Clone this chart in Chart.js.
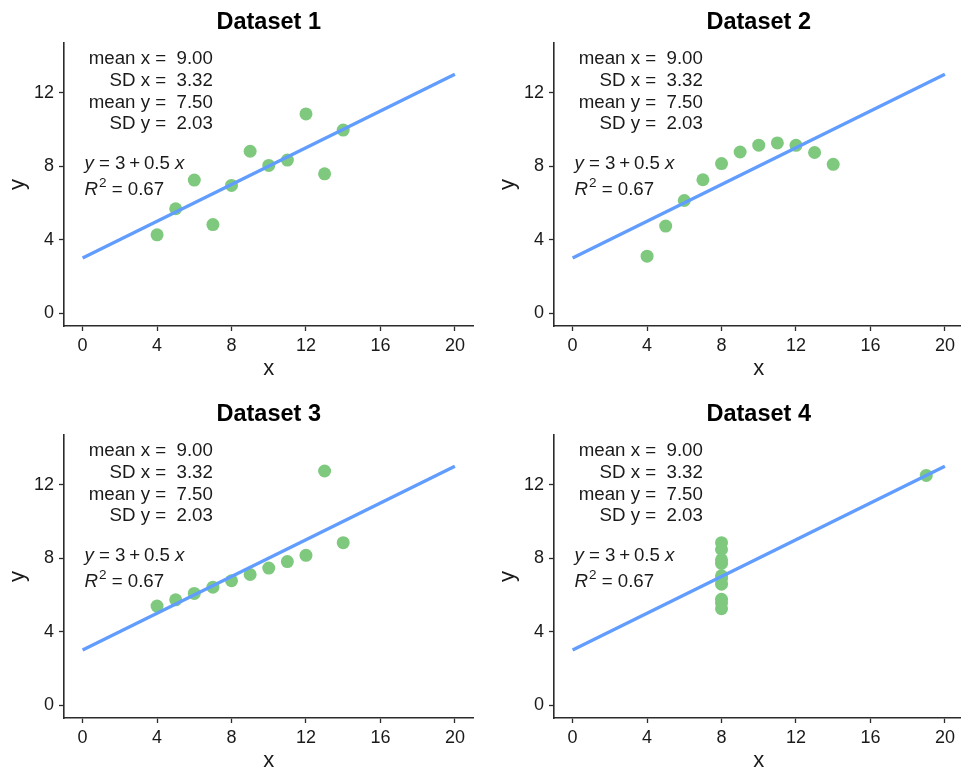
<!DOCTYPE html>
<html>
<head>
<meta charset="utf-8">
<script src="https://cdn.jsdelivr.net/npm/chart.js@4/dist/chart.umd.min.js"></script>
<style>
  html, body { margin: 0; padding: 0; background: #fff; overflow: hidden; width: 961px; height: 774px; }
  .panel { position: absolute; width: 480px; height: 387px; }
  canvas { display: block; }
</style>
</head>
<body>
<div class="panel" style="left:0px;top:0px"><canvas id="c1" width="480" height="387"></canvas></div>
<div class="panel" style="left:490px;top:0px"><canvas id="c2" width="480" height="387"></canvas></div>
<div class="panel" style="left:0px;top:392px"><canvas id="c3" width="480" height="387"></canvas></div>
<div class="panel" style="left:490px;top:392px"><canvas id="c4" width="480" height="387"></canvas></div>
<script>
// ---- data (Anscombe's quartet) ----
const titles = ['Dataset 1', 'Dataset 2', 'Dataset 3', 'Dataset 4'];
const x123 = [10, 8, 13, 9, 11, 14, 6, 4, 12, 7, 5];
const y1 = [8.04, 6.95, 7.58, 8.81, 8.33, 9.96, 7.24, 4.26, 10.84, 4.82, 5.68];
const y2 = [9.14, 8.14, 8.74, 8.77, 9.26, 8.10, 6.13, 3.10, 9.13, 7.26, 4.74];
const y3 = [7.46, 6.77, 12.74, 7.11, 7.81, 8.84, 6.08, 5.39, 8.15, 6.42, 5.73];
const x4 = [8, 8, 8, 8, 8, 8, 8, 19, 8, 8, 8];
const y4 = [6.58, 5.76, 7.71, 8.84, 8.47, 7.04, 5.25, 12.50, 5.56, 7.91, 6.89];
const fitX = [0, 20];
const fitY = [3, 13];
const xTicks = [0, 4, 8, 12, 16, 20];
const yTicks = [0, 4, 8, 12];
const statLines = ['mean x =  9.00', 'SD x =  3.32', 'mean y =  7.50', 'SD y =  2.03'];
const eqText = ['y', ' = 3\u2009+\u20090.5 ', 'x'];
const r2Text = ['R', '2', ' = 0.67'];

const seriesX = [x123, x123, x123, x4];
const seriesY = [y1, y2, y3, y4];

// ---- styling ----
const FF = "'Liberation Sans', Arial, Helvetica, sans-serif";
const TXT = '#1a1a1a';
const AX = '#2b2b2b';
const AFS = 18.7;

const annot = {
  id: 'annot',
  afterDatasetsDraw(chart, args, opts) {
    const { ctx } = chart;
    const xs = chart.scales.x, ys = chart.scales.y;
    ctx.save();
    ctx.fillStyle = TXT;
    ctx.textBaseline = 'alphabetic';
    ctx.font = `${AFS}px ${FF}`;
    ctx.textAlign = 'right';
    const sx = xs.getPixelForValue(opts.statX);
    opts.statY.forEach((v, i) => ctx.fillText(statLines[i], sx, ys.getPixelForValue(v)));
    ctx.textAlign = 'left';
    // equation line
    let px = xs.getPixelForValue(opts.eqX);
    let py = ys.getPixelForValue(opts.eqY[0]);
    ctx.font = `italic ${AFS}px ${FF}`; ctx.fillText(eqText[0], px, py); px += ctx.measureText(eqText[0]).width;
    ctx.font = `${AFS}px ${FF}`; ctx.fillText(eqText[1], px, py); px += ctx.measureText(eqText[1]).width;
    ctx.font = `italic ${AFS}px ${FF}`; ctx.fillText(eqText[2], px, py);
    // R^2 line
    px = xs.getPixelForValue(opts.eqX);
    py = ys.getPixelForValue(opts.eqY[1]);
    ctx.font = `italic ${AFS}px ${FF}`; ctx.fillText(r2Text[0], px, py); px += ctx.measureText(r2Text[0]).width + 1;
    ctx.font = `13.5px ${FF}`; ctx.fillText(r2Text[1], px, py - 8); px += ctx.measureText(r2Text[1]).width;
    ctx.font = `${AFS}px ${FF}`; ctx.fillText(r2Text[2], px, py);
    ctx.restore();
  }
};

function makeChart(id, k) {
  const pts = seriesX[k].map((xv, i) => ({ x: xv, y: seriesY[k][i] }));
  const line = fitX.map((xv, i) => ({ x: xv, y: fitY[i] }));
  return new Chart(document.getElementById(id), {
    type: 'scatter',
    data: {
      datasets: [
        { type: 'line', data: line, borderColor: '#619CFF', borderWidth: 3.3, pointRadius: 0, showLine: true, fill: false, tension: 0, borderCapStyle: 'butt' },
        { data: pts, backgroundColor: '#7FC97F', borderWidth: 0, pointRadius: 6.5, pointHoverRadius: 6.5 }
      ]
    },
    options: {
      responsive: false,
      animation: false,
      devicePixelRatio: 1,
      events: [],
      layout: { padding: { left: 0, right: 5, top: 0, bottom: 0 } },
      plugins: {
        legend: { display: false },
        tooltip: { enabled: false },
        title: {
          display: true, text: titles[k], fullSize: false, color: '#000',
          font: { family: FF, size: 23.5, weight: 'bold' },
          padding: { top: 8, bottom: 6.8 }
        },
        annot: { statX: 7, statY: [13.57, 12.38, 11.19, 10.0], eqX: 0.1, eqY: [7.86, 6.45] }
      },
      scales: {
        x: {
          type: 'linear', min: -1, max: 21,
          afterBuildTicks: s => { s.ticks = xTicks.map(v => ({ value: v })); },
          afterFit: s => { s.height = 61; },
          ticks: { font: { family: FF, size: 18 }, color: TXT, padding: 4, maxRotation: 0, autoSkip: false },
          grid: { display: true, drawOnChartArea: false, drawTicks: true, tickLength: 5, tickColor: AX, tickWidth: 1.3 },
          border: { display: true, color: AX, width: 1.6 },
          title: { display: true, text: 'x', color: TXT, font: { family: FF, size: 22 }, padding: { top: 0, bottom: 5 } }
        },
        y: {
          type: 'linear', min: -0.7, max: 14.7,
          afterBuildTicks: s => { s.ticks = yTicks.map(v => ({ value: v })); },
          afterFit: s => { s.width = 64; },
          ticks: { font: { family: FF, size: 18 }, color: TXT, padding: 5 },
          grid: { display: true, drawOnChartArea: false, drawTicks: true, tickLength: 5, tickColor: AX, tickWidth: 1.3 },
          border: { display: true, color: AX, width: 1.6 },
          title: { display: true, text: 'y', color: TXT, font: { family: FF, size: 22 }, padding: { top: 5, bottom: 0 } }
        }
      }
    },
    plugins: [annot]
  });
}

['c1', 'c2', 'c3', 'c4'].forEach((id, k) => makeChart(id, k));
</script>
</body>
</html>
